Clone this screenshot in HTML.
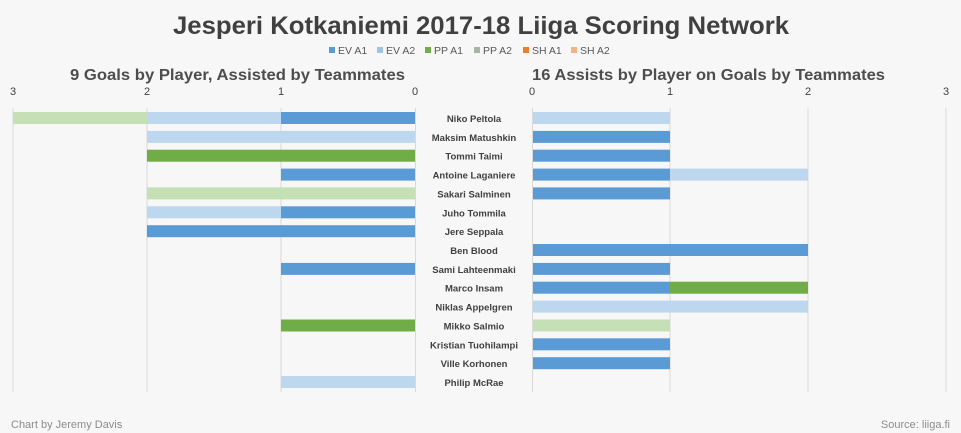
<!DOCTYPE html>
<html><head><meta charset="utf-8"><style>
html,body{margin:0;padding:0;background:#f7f7f7;}
svg{display:block;font-family:"Liberation Sans",sans-serif;}
</style></head><body>
<svg width="961" height="433" viewBox="0 0 961 433" xmlns="http://www.w3.org/2000/svg">
<rect width="961" height="433" fill="#f7f7f7"/>
<text x="173" y="34" font-size="25" font-weight="bold" fill="#404040" textLength="616" lengthAdjust="spacingAndGlyphs">Jesperi Kotkaniemi 2017-18 Liiga Scoring Network</text>
<g font-size="10.5" fill="#595959">
<rect x="329" y="47" width="6" height="6" fill="#5b9bd5"/><text x="338" y="54">EV A1</text>
<rect x="377" y="47" width="6" height="6" fill="#9dc3e6"/><text x="386" y="54">EV A2</text>
<rect x="425" y="47" width="6" height="6" fill="#70ad47"/><text x="434" y="54">PP A1</text>
<rect x="474" y="47" width="6" height="6" fill="#aab4a4"/><text x="483" y="54">PP A2</text>
<rect x="523" y="47" width="6" height="6" fill="#ed7d31"/><text x="532" y="54">SH A1</text>
<rect x="571" y="47" width="6" height="6" fill="#f4b183"/><text x="580" y="54">SH A2</text>
</g>
<text x="70" y="80" font-size="16" font-weight="bold" fill="#4d4d4d" textLength="335" lengthAdjust="spacingAndGlyphs">9 Goals by Player, Assisted by Teammates</text>
<text x="532" y="80" font-size="16" font-weight="bold" fill="#4d4d4d" textLength="353" lengthAdjust="spacingAndGlyphs">16 Assists by Player on Goals by Teammates</text>
<g font-size="11" fill="#404040" text-anchor="middle">
<text x="13" y="95">3</text><text x="147" y="95">2</text><text x="281" y="95">1</text><text x="415" y="95">0</text>
<text x="532" y="95">0</text><text x="670" y="95">1</text><text x="808" y="95">2</text><text x="946" y="95">3</text>
</g>
<g stroke="#d9d9d9" stroke-width="1">
<line x1="13" y1="108" x2="13" y2="392"/><line x1="147" y1="108" x2="147" y2="392"/><line x1="281" y1="108" x2="281" y2="392"/><line x1="415.5" y1="108" x2="415.5" y2="392"/>
<line x1="532.5" y1="108" x2="532.5" y2="392"/><line x1="670" y1="108" x2="670" y2="392"/><line x1="808" y1="108" x2="808" y2="392"/><line x1="946" y1="108" x2="946" y2="392"/>
</g>
<g>
<rect x="281" y="112" width="134" height="12" fill="#5b9bd5"/>
<rect x="147" y="112" width="134" height="12" fill="#bdd7ee"/>
<rect x="13" y="112" width="134" height="12" fill="#c5e0b4"/>
<rect x="147" y="130.9" width="268" height="12" fill="#bdd7ee"/>
<rect x="147" y="149.7" width="268" height="12" fill="#70ad47"/>
<rect x="281" y="168.6" width="134" height="12" fill="#5b9bd5"/>
<rect x="147" y="187.4" width="268" height="12" fill="#c5e0b4"/>
<rect x="281" y="206.3" width="134" height="12" fill="#5b9bd5"/>
<rect x="147" y="206.3" width="134" height="12" fill="#bdd7ee"/>
<rect x="147" y="225.2" width="268" height="12" fill="#5b9bd5"/>
<rect x="281" y="262.9" width="134" height="12" fill="#5b9bd5"/>
<rect x="281" y="319.5" width="134" height="12" fill="#70ad47"/>
<rect x="281" y="376" width="134" height="12" fill="#bdd7ee"/>
<rect x="533" y="112" width="137" height="12" fill="#bdd7ee"/>
<rect x="533" y="130.9" width="137" height="12" fill="#5b9bd5"/>
<rect x="533" y="149.7" width="137" height="12" fill="#5b9bd5"/>
<rect x="533" y="168.6" width="137" height="12" fill="#5b9bd5"/>
<rect x="670" y="168.6" width="138" height="12" fill="#bdd7ee"/>
<rect x="533" y="187.4" width="137" height="12" fill="#5b9bd5"/>
<rect x="533" y="244" width="275" height="12" fill="#5b9bd5"/>
<rect x="533" y="262.9" width="137" height="12" fill="#5b9bd5"/>
<rect x="533" y="281.7" width="137" height="12" fill="#5b9bd5"/>
<rect x="670" y="281.7" width="138" height="12" fill="#70ad47"/>
<rect x="533" y="300.6" width="275" height="12" fill="#bdd7ee"/>
<rect x="533" y="319.5" width="137" height="12" fill="#c5e0b4"/>
<rect x="533" y="338.3" width="137" height="12" fill="#5b9bd5"/>
<rect x="533" y="357.2" width="137" height="12" fill="#5b9bd5"/>
</g>
<g font-size="9.5" fill="#404040" text-anchor="middle" font-weight="bold">
<text x="474" y="122">Niko Peltola</text>
<text x="474" y="140.9">Maksim Matushkin</text>
<text x="474" y="159.7">Tommi Taimi</text>
<text x="474" y="178.6">Antoine Laganiere</text>
<text x="474" y="197.4">Sakari Salminen</text>
<text x="474" y="216.3">Juho Tommila</text>
<text x="474" y="235.2">Jere Seppala</text>
<text x="474" y="254">Ben Blood</text>
<text x="474" y="272.9">Sami Lahteenmaki</text>
<text x="474" y="291.7">Marco Insam</text>
<text x="474" y="310.6">Niklas Appelgren</text>
<text x="474" y="329.5">Mikko Salmio</text>
<text x="474" y="348.3">Kristian Tuohilampi</text>
<text x="474" y="367.2">Ville Korhonen</text>
<text x="474" y="386">Philip McRae</text>
</g>
<text x="11" y="428" font-size="11" fill="#8c8c8c">Chart by Jeremy Davis</text>
<text x="950" y="428" font-size="11" fill="#8c8c8c" text-anchor="end">Source: liiga.fi</text>
</svg>
</body></html>
